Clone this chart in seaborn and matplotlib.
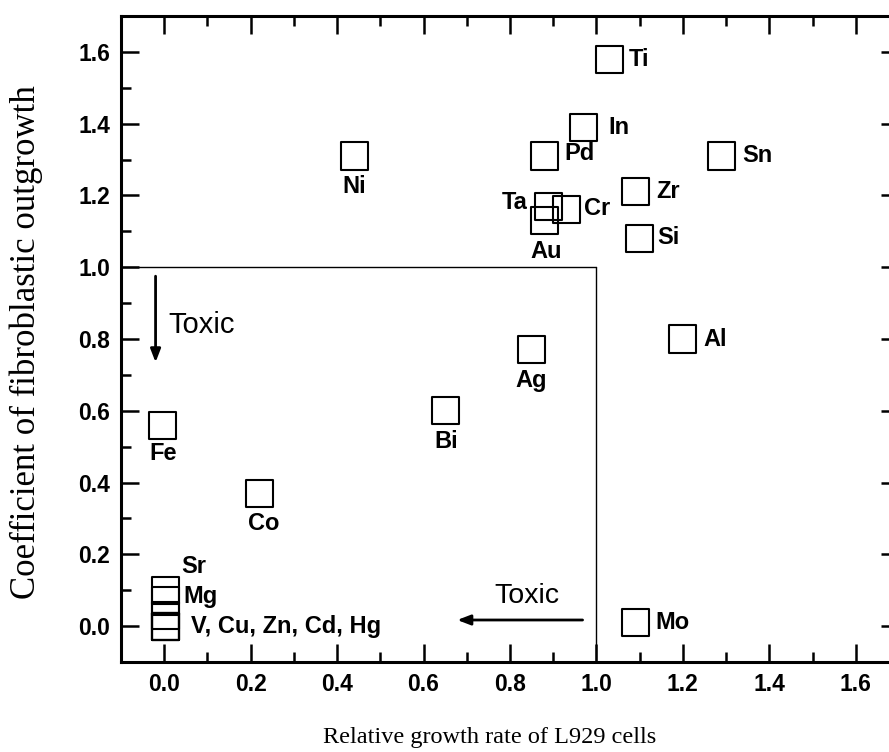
import matplotlib
matplotlib.use("Agg")
import matplotlib.pyplot as plt
from matplotlib import font_manager
import seaborn as sns
import pandas as pd

# ---- data ----
elements = ['Ti', 'In', 'Pd', 'Sn', 'Ni', 'Zr', 'Ta', 'Cr', 'Au', 'Si', 'Al', 'Ag',
            'Bi', 'Fe', 'Co', 'Mo', 'Sr', 'Mg', 'V', 'Cu', 'Zn', 'Cd', 'Hg']
growth_rate = [1.03, 0.97, 0.88, 1.29, 0.44, 1.09, 0.89, 0.93, 0.88, 1.10, 1.20, 0.85,
               0.65, -0.005, 0.22, 1.09, 0.003, 0.003, 0.003, 0.003, 0.003, 0.003, 0.003]
outgrowth = [1.58, 1.39, 1.31, 1.31, 1.31, 1.21, 1.17, 1.16, 1.13, 1.08, 0.80, 0.77,
             0.60, 0.56, 0.37, 0.01, 0.10, 0.07, 0.03, 0.0, 0.0, 0.0, 0.0]
group_label = 'V, Cu, Zn, Cd, Hg'
group_members = ['V', 'Cu', 'Zn', 'Cd', 'Hg']
x_ticks = [0.0, 0.2, 0.4, 0.6, 0.8, 1.0, 1.2, 1.4, 1.6]
y_ticks = [0.0, 0.2, 0.4, 0.6, 0.8, 1.0, 1.2, 1.4, 1.6]
x_title = 'Relative growth rate of L929 cells'
y_title = 'Coefficient of fibroblastic outgrowth'
toxic_text = 'Toxic'

df = pd.DataFrame({'element': elements, 'growth': growth_rate, 'outgrowth': outgrowth})

# ---- style ----
sns.set_theme(style='ticks')
installed = {f.name for f in font_manager.fontManager.ttflist}
sans = 'Liberation Sans'
narrow = 'Liberation Sans Narrow' if 'Liberation Sans Narrow' in installed else sans
serif = 'Liberation Serif'
plt.rcParams['font.family'] = [sans, 'DejaVu Sans']
plt.rcParams['text.color'] = 'black'
plt.rcParams['axes.labelcolor'] = 'black'
plt.rcParams['xtick.color'] = 'black'
plt.rcParams['ytick.color'] = 'black'

fig = plt.figure(figsize=(8.89, 7.52), dpi=100)
ax = fig.add_axes([0.1361, 0.1197, 0.8751, 0.8590])

sns.scatterplot(data=df, x='growth', y='outgrowth', marker='s', s=380,
                facecolor='none', edgecolor='black', linewidth=1.5, ax=ax, zorder=3)

ax.set_xlim(-0.1, 1.7)
ax.set_ylim(-0.1, 1.7)

# label offsets in points (dx, dy, ha, va)
offsets = {
    'Ti': (14, 0, 'left', 'center'), 'In': (18, 0, 'left', 'center'),
    'Pd': (14, 2, 'left', 'center'), 'Sn': (15, 0, 'left', 'center'),
    'Ni': (0, -22, 'center', 'center'), 'Zr': (15, 0, 'left', 'center'),
    'Ta': (-15, 3, 'right', 'center'), 'Cr': (13, 1, 'left', 'center'),
    'Au': (1, -22, 'center', 'center'), 'Si': (12.5, 1, 'left', 'center'),
    'Al': (15, 0, 'left', 'center'), 'Ag': (0, -22, 'center', 'center'),
    'Bi': (1, -22, 'center', 'center'), 'Fe': (1, -20.5, 'center', 'center'),
    'Co': (3, -22, 'center', 'center'), 'Mo': (14.5, 0, 'left', 'center'),
    'Sr': (11, 17, 'left', 'center'), 'Mg': (13, 3, 'left', 'center'),
}
for el, gx, gy in zip(elements, growth_rate, outgrowth):
    if el in offsets:
        dx, dy, ha, va = offsets[el]
        ax.annotate(el, (gx, gy), xytext=(dx, dy), textcoords='offset points',
                    ha=ha, va=va, fontsize=17, fontweight='bold', color='black',
                    family=[narrow, 'DejaVu Sans'])
anchor = group_members[-1]
i = elements.index(anchor)
ax.annotate(group_label, (growth_rate[i], outgrowth[i]), xytext=(18, 0),
            textcoords='offset points', ha='left', va='center', fontsize=17,
            fontweight='bold', color='black', family=[narrow, 'DejaVu Sans'])

# region lines
ax.plot([-0.1, 1.0], [1.0, 1.0], color='black', lw=1.0, zorder=2)
ax.plot([1.0, 1.0], [-0.1, 1.0], color='black', lw=1.0, zorder=2)

# arrows
arrowprops = dict(arrowstyle='-|>,head_length=0.65,head_width=0.25', color='black', lw=2,
                  shrinkA=0, shrinkB=0)
ax.annotate('', xy=(-0.02, 0.735), xytext=(-0.02, 0.975), arrowprops=arrowprops)
ax.text(0.01, 0.84, toxic_text, fontsize=21, ha='left', va='center', color='black')
ax.annotate('', xy=(0.678, 0.017), xytext=(0.968, 0.017), arrowprops=arrowprops)
ax.text(0.838, 0.083, toxic_text, fontsize=20.5, ha='center', va='center', color='black')

# ticks
ax.set_xticks(x_ticks)
ax.set_yticks(y_ticks)
ax.set_xticklabels([f'{t:.1f}' for t in x_ticks])
ax.set_yticklabels([f'{t:.1f}' for t in y_ticks])
ax.set_xticks([t + 0.1 for t in [-0.2] + x_ticks], minor=True)
ax.set_yticks([t + 0.1 for t in [-0.2] + y_ticks], minor=True)
ax.tick_params(which='both', direction='in', top=True, right=True, width=1.8, color='black')
ax.tick_params(which='major', length=13, pad=8, labelsize=16.5, labelcolor='black')
ax.tick_params(which='minor', length=7)
for lab in ax.get_xticklabels() + ax.get_yticklabels():
    lab.set_fontweight('bold')
for sp in ax.spines.values():
    sp.set_linewidth(2.2)
    sp.set_color('black')
    sp.set_visible(True)

ax.set_xlabel(x_title, fontsize=17.5, family=[serif], color='black')
ax.set_ylabel(y_title, fontsize=25, family=[serif], color='black')
ax.xaxis.set_label_coords(0.474, -0.1)
ax.yaxis.set_label_coords(-0.1, 0.4946)

fig.savefig('out.png', dpi=100)
